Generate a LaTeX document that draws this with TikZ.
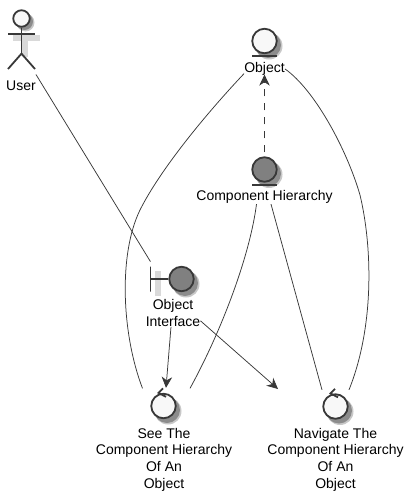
\documentclass[tikz,border=0pt]{standalone}
\usepackage{fontspec}
\setmainfont{Liberation Sans}
\usetikzlibrary{positioning,arrows.meta}
\definecolor{linegray}{HTML}{383838}
\definecolor{symfill}{HTML}{F8F8F8}
\definecolor{darkfill}{HTML}{808080}
\definecolor{shadowlight}{HTML}{C8C8C8}
\definecolor{shadowdark}{HTML}{8C8C8C}
\tikzset{
  symcircle/.style={circle,draw=linegray,line width=1.8pt,minimum size=24.5pt,inner sep=0pt,fill=symfill},
  darkcircle/.style={symcircle,fill=darkfill},
  symline/.style={draw=linegray,line width=1.8pt},
  lineshadow/.style={draw=black!15,line width=6pt},
  caption/.style={inner sep=0pt,align=center,font=\fontsize{14}{16.6}\selectfont,text=black},
  conn/.style={draw=linegray,line width=.75pt},
  openarrow/.style={-{Stealth[inset=3.5pt,length=11pt,width=10.5pt]}},
}
\begin{document}
\begin{tikzpicture}[x=1pt,y=-1pt]
	\useasboundingbox (0,0) rectangle (414,501);

	% shadows first
	\foreach \cx/\cy in {268/45,268/173.5,185/283,167/410,339/410.5} {
		\fill[shadowlight] (\cx+1,\cy+1) circle (13.5pt);
		\fill[shadowdark] (\cx,\cy) circle (13pt);
	}
	\fill[shadowlight] (25.5,22.5) circle (9pt);
	\fill[shadowdark] (24.5,21.5) circle (8.5pt);

	% actor
	\draw[lineshadow] (25,38) -- (25,57) (13,38) -- (40,38);
	\node[symcircle,minimum size=16.5pt] (head) at (21.5,18.5) {};
	\draw[symline] (head.south) -- ++(0,26) coordinate (hip);
	\draw[symline] (8,34) -- (35,34);
	\draw[symline] (8,69) -- (hip) -- (35,69);
	\node[caption,anchor=north] (user) at (21,80.5) {User};

	% entities
	\node[symcircle] (object) at (264.5,41) {};
	\node[caption,below=8pt of object] (objectlabel) {Object};
	\node[darkcircle] (hierarchy) at (264.5,169.5) {};
	\node[caption,below=8pt of hierarchy] (hierarchylabel) {Component Hierarchy};
	\foreach \ent in {object,hierarchy}
		\draw[symline] ([xshift=-12.5pt,yshift=-2pt]\ent.south) -- ([xshift=12.5pt,yshift=-2pt]\ent.south);

	% boundary
	\node[darkcircle] (iface) at (181.5,279) {};
	\draw[lineshadow] (158,271) -- (158,296);
	\node[draw=linegray,line width=1.8pt,minimum height=25pt,minimum width=0pt,inner sep=0pt,left=17pt of iface] (ifacebar) {};
	\draw[symline] (ifacebar) -- (iface);
	\node[caption,anchor=north] (ifacelabel) at (173,299.5) {Object\\Interface};

	% controls
	\node[symcircle] (see) at (163.5,406) {};
	\node[symcircle] (navigate) at (335.5,406.5) {};
	\node[caption,anchor=north] (seelabel) at (164,428) {See The\\Component Hierarchy\\Of An\\Object};
	\node[caption,anchor=north] (navigatelabel) at (335.5,428) {Navigate The\\Component Hierarchy\\Of An\\Object};
	\foreach \ctl in {see,navigate}
		\draw[symline] ([xshift=-.5pt,yshift=4.5pt]\ctl.north) -- ([xshift=-5pt,yshift=0pt]\ctl.north) -- ([xshift=2.5pt,yshift=-4pt]\ctl.north);

	\coordinate (navigatein) at (278,389);

	% connectors
	\draw[conn] ([yshift=6pt]user.north east) -- ([yshift=4pt]ifacebar.north);
	\draw[conn] ([yshift=2pt]objectlabel.south west) .. controls (205,115) and (160,170) .. (140,210)
		.. controls (118,255) and (122,335) .. ([xshift=-21pt,yshift=4.5pt]see.north);
	\draw[conn] (objectlabel.east) .. controls (315,90) and (347,150) .. (360,195)
		.. controls (372,245) and (375,325) .. ([xshift=13.5pt,yshift=3.5pt]navigate.north);
	\draw[conn] ([xshift=-8pt]hierarchylabel.south) .. controls (250,255) and (222,330) .. ([xshift=26.5pt,yshift=4.5pt]see.north);
	\draw[conn] ([xshift=6.5pt]hierarchylabel.south) -- ([xshift=-13.5pt,yshift=3.5pt]navigate.north);
	\draw[conn,dashed,dash pattern=on 7pt off 7pt,openarrow] ([yshift=4pt]hierarchy.north) -- ([yshift=1pt]objectlabel.south);
	\draw[conn,openarrow] ([xshift=-2pt]ifacelabel.south) -- ([xshift=2.5pt,yshift=5pt]see.north);
	\draw[conn,openarrow] ([yshift=6pt]ifacelabel.south east) -- (navigatein);
\end{tikzpicture}
\end{document}
